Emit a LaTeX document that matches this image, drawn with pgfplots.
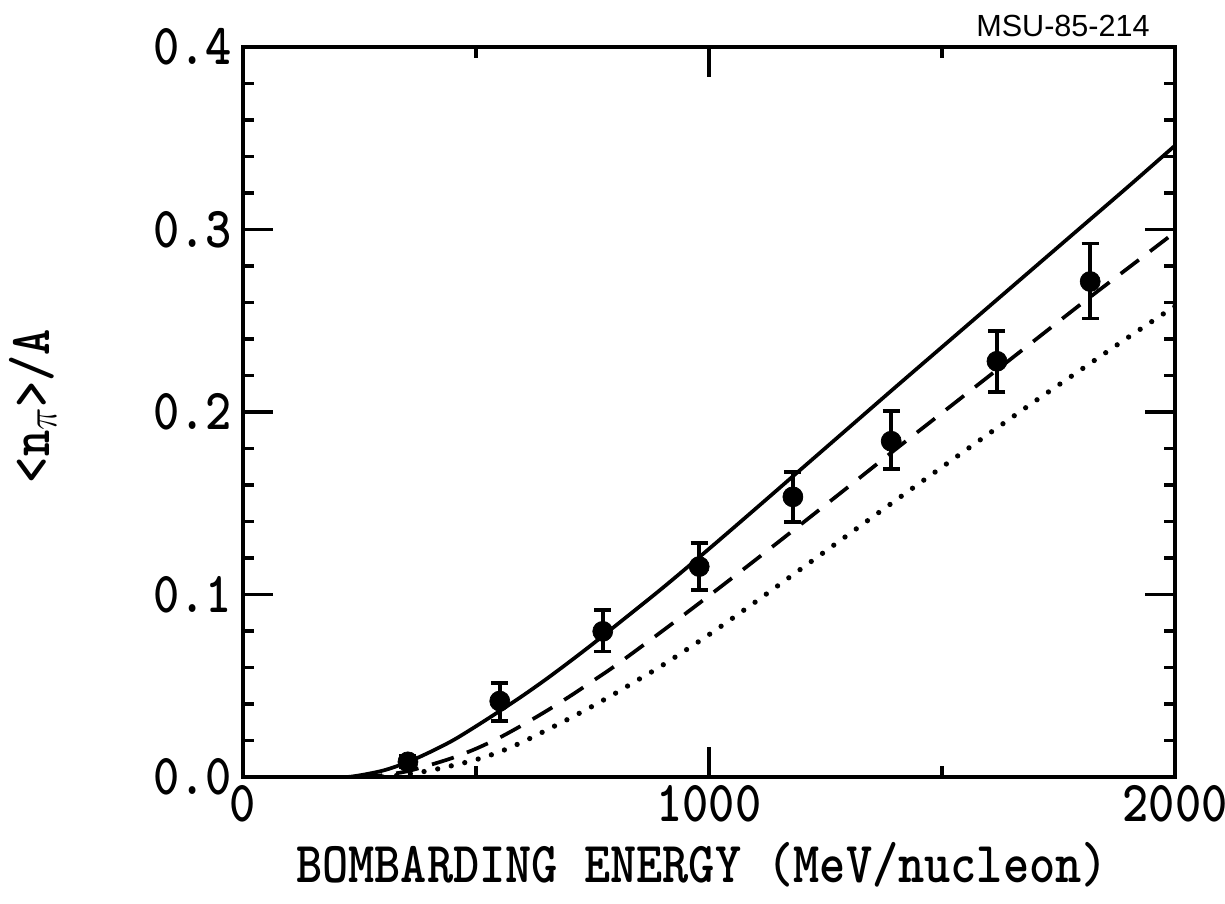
\documentclass[border=0pt]{standalone}
\usepackage{pgfplots}
\pgfplotsset{compat=1.18}
\usepackage{fontspec}
\newfontfamily\msu{Liberation Sans}
\newcommand\lab[1]{\scalebox{0.86}[1]{\fontsize{33}{36}\selectfont\ttfamily\bfseries #1}}

\pgfplotstableread{
x y ep em
354 0.0083 0.003 0.003
551 0.0416 0.0099 0.0109
772 0.0798 0.0115 0.0110
979 0.1153 0.0131 0.0126
1180 0.1535 0.0137 0.0137
1391 0.1840 0.0165 0.0153
1618 0.2278 0.0164 0.0170
1818 0.2715 0.0208 0.0203
}\data

\pgfplotstableread{
x y
0 0
200 0
240 0.0005
300 0.0035
350 0.0078
400 0.0135
450 0.0200
500 0.0278
550 0.0360
600 0.0445
650 0.0535
700 0.0630
750 0.0728
800 0.0830
900 0.1035
1000 0.1250
1100 0.1470
1200 0.1692
1300 0.1914
1400 0.2136
1500 0.2356
1600 0.2576
1700 0.2796
1800 0.3016
1900 0.3236
2000 0.3460
}\solid

\pgfplotstableread{
x y
250 0
300 0.0010
350 0.0030
400 0.0065
450 0.0105
500 0.0155
550 0.0215
600 0.0285
650 0.0360
700 0.0440
750 0.0525
800 0.0612
900 0.0800
1000 0.0993
1100 0.1190
1200 0.1390
1300 0.1592
1400 0.1795
1500 0.1995
1600 0.2195
1700 0.2395
1800 0.2595
1900 0.2790
2000 0.2985
}\dashed

\pgfplotstableread{
x y
300 0
350 0.0015
400 0.0035
450 0.0063
500 0.0095
550 0.0137
600 0.0192
650 0.0255
700 0.0320
750 0.0388
800 0.0460
850 0.0536
900 0.0612
1000 0.0780
1100 0.0960
1200 0.1145
1300 0.1330
1400 0.1515
1500 0.1698
1600 0.1880
1700 0.2060
1800 0.2235
1900 0.2410
2000 0.2580
}\dotted

\begin{document}
\begin{tikzpicture}
\useasboundingbox (-4.86,-2.52) rectangle (19.64,15.54);
\begin{axis}[
  scale only axis, width=18.64cm, height=14.6cm,
  xmin=0, xmax=2000, ymin=0, ymax=0.4,
  xtick={0,1000,2000}, xticklabels={\lab{0},\lab{1000},\lab{2000}},
  minor xtick={500,1500},
  ytick={0,0.1,0.2,0.3,0.4},
  yticklabels={\lab{0.0},\lab{0.1},\lab{0.2},\lab{0.3},\lab{0.4}},
  minor ytick={0.02,0.04,0.06,0.08,0.12,0.14,0.16,0.18,0.22,0.24,0.26,0.28,0.32,0.34,0.36,0.38},
  tick align=inside,
  major tick length=0.6cm, minor tick length=0.22cm,
  axis line style={line width=2.8pt},
  every tick/.style={black, line width=2.2pt},
  xticklabel style={anchor=north, inner sep=0pt, yshift=-0.16cm},
  yticklabel style={anchor=east, inner sep=0pt, xshift=-0.22cm},
  xlabel={\lab{BOMBARDING ENERGY (MeV/nucleon)}},
  ylabel={\lab{<n$_\pi$>/A}},
  every axis x label/.style={at={(axis description cs:0.4925,-0.1205)}, anchor=center},
  every axis y label/.style={at={(axis description cs:-0.2253,0.508)}, rotate=90, anchor=center},
]
\addplot[black, line width=2.1pt, smooth] table[x=x,y=y] {\solid};
\addplot[black, line width=2.1pt, smooth, dash pattern=on 13pt off 8pt] table[x=x,y=y] {\dashed};
\addplot[black, line width=3pt, smooth, line cap=round, dash pattern=on 0pt off 7.9pt] table[x=x,y=y] {\dotted};
\addplot[only marks, mark=*, mark size=0.2cm, black,
  error bars/.cd, y dir=both, y explicit, error mark=-,
  error bar style={line width=2.2pt, black},
  error mark options={rotate=90, line width=2.2pt, mark size=0.17cm, black}]
  table[x=x, y=y, y error plus=ep, y error minus=em] {\data};
\end{axis}
\node[anchor=east, inner sep=0pt, font=\msu\fontsize{17.4}{20}\selectfont] at (18.14,15.02) {MSU-85-214};
\end{tikzpicture}
\end{document}
